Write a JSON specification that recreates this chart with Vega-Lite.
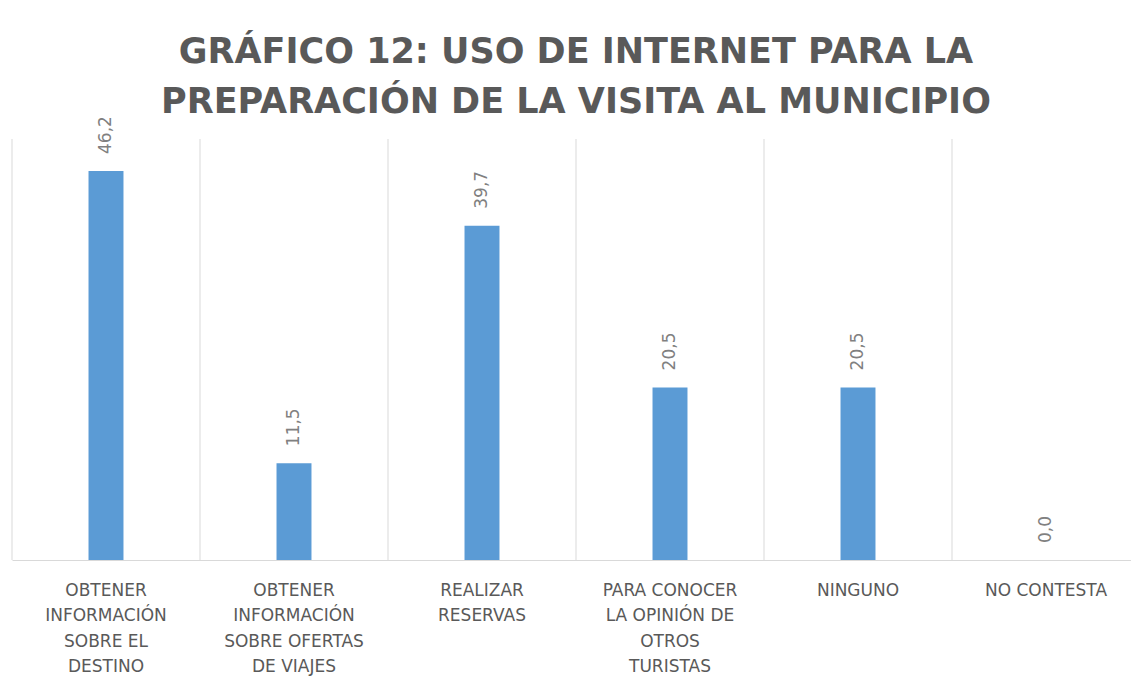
{
  "$schema": "https://vega.github.io/schema/vega-lite/v6.json",
  "width": 1128,
  "height": 421,
  "autosize": {"type": "none"},
  "padding": {"left": 12, "top": 139, "right": 0, "bottom": 137},
  "background": "white",
  "config": {
    "view": {"stroke": null},
    "locale": {"number": {"decimal": ",", "thousands": ".", "grouping": [3], "currency": ["", " €"]}},
    "font": "DejaVu Sans"
  },
  "title": {
    "text": ["GRÁFICO 12: USO DE INTERNET PARA LA", "PREPARACIÓN DE LA VISITA AL MUNICIPIO"],
    "font": "DejaVu Sans",
    "fontSize": 35,
    "fontWeight": "bold",
    "color": "#595959",
    "lineHeight": 50,
    "anchor": "middle",
    "offset": -4
  },
  "data": {
    "values": [
      {"categoria": "Obtener información sobre el destino", "porcentaje": 46.2},
      {"categoria": "Obtener información sobre ofertas de viajes", "porcentaje": 11.5},
      {"categoria": "Realizar reservas", "porcentaje": 39.7},
      {"categoria": "Para conocer la opinión de otros turistas", "porcentaje": 20.5},
      {"categoria": "Ninguno", "porcentaje": 20.5},
      {"categoria": "No contesta", "porcentaje": 0.0}
    ]
  },
  "encoding": {
    "x": {
      "field": "categoria",
      "type": "nominal",
      "sort": null,
      "scale": {"paddingInner": 0, "paddingOuter": 0},
      "axis": {
        "title": null,
        "labelAngle": 0,
        "ticks": false,
        "grid": false,
        "domainColor": "#d9d9d9",
        "labelColor": "#595959",
        "labelFont": "DejaVu Sans",
        "labelFontSize": 17,
        "labelLineHeight": 25.5,
        "labelPadding": 22,
        "labelLimit": 0,
        "labelExpr": "datum.value == 'Obtener información sobre el destino' ? ['OBTENER','INFORMACIÓN','SOBRE EL','DESTINO'] : datum.value == 'Obtener información sobre ofertas de viajes' ? ['OBTENER','INFORMACIÓN','SOBRE OFERTAS','DE VIAJES'] : datum.value == 'Realizar reservas' ? ['REALIZAR','RESERVAS'] : datum.value == 'Para conocer la opinión de otros turistas' ? ['PARA CONOCER','LA OPINIÓN DE','OTROS','TURISTAS'] : upper(datum.value)"
      }
    }
  },
  "layer": [
    {
      "mark": {"type": "rule", "color": "#d9d9d9", "strokeWidth": 1},
      "encoding": {
        "x": {"field": "categoria", "type": "nominal", "sort": null, "bandPosition": 0}
      }
    },
    {
      "mark": {"type": "bar", "color": "#5b9bd5", "width": {"band": 0.186}},
      "encoding": {
        "y": {"field": "porcentaje", "type": "quantitative", "scale": {"domain": [0, 50]}, "axis": null}
      }
    },
    {
      "mark": {"type": "text", "angle": 270, "align": "left", "baseline": "middle", "dx": 17, "fontSize": 17, "color": "#808080", "font": "DejaVu Sans"},
      "encoding": {
        "y": {"field": "porcentaje", "type": "quantitative"},
        "text": {"field": "porcentaje", "type": "quantitative", "format": ".1f"}
      }
    }
  ]
}
